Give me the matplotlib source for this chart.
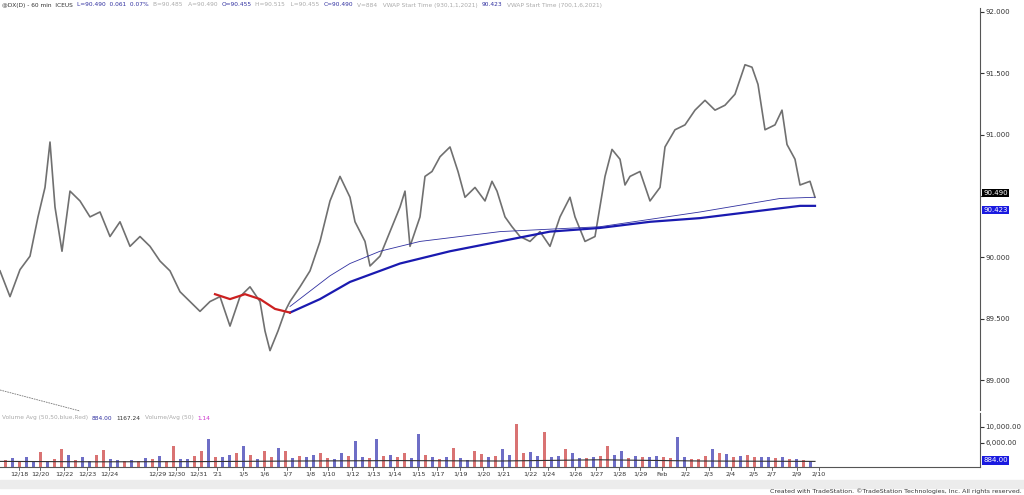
import numpy as np
import matplotlib.pyplot as plt
from matplotlib.patches import Rectangle

# price path (x in bar-position units, close value)
px = [0, 10, 20, 30, 38, 45, 50, 55, 62, 70, 80, 90, 100, 110, 120, 130, 140, 150, 160, 170,
      180, 190, 200, 210, 220, 230, 240, 250, 260, 265, 270, 278, 285, 290, 300, 310, 320, 330,
      340, 350, 355, 365, 370, 380, 390, 400, 405, 410, 420, 425, 432, 440, 450, 458, 465, 475,
      485, 492, 497, 505, 512, 520, 530, 540, 550, 560, 570, 575, 585, 595, 605, 612, 620, 625,
      630, 640, 650, 660, 665, 675, 685, 695, 705, 715, 725, 735, 745, 752, 758, 765, 775, 782,
      787, 795, 800, 810, 815]
price = [89.89, 89.68, 89.90, 90.01, 90.33, 90.57, 90.94, 90.41, 90.05, 90.54, 90.46, 90.33,
         90.37, 90.17, 90.29, 90.09, 90.17, 90.09, 89.97, 89.89, 89.72, 89.64, 89.56, 89.64,
         89.68, 89.44, 89.68, 89.76, 89.64, 89.40, 89.24, 89.40, 89.56, 89.64, 89.76, 89.89,
         90.13, 90.46, 90.66, 90.49, 90.29, 90.13, 89.93, 90.01, 90.21, 90.41, 90.54, 90.09,
         90.33, 90.66, 90.70, 90.82, 90.90, 90.70, 90.49, 90.57, 90.46, 90.62, 90.54, 90.33,
         90.25, 90.17, 90.13, 90.21, 90.09, 90.33, 90.49, 90.33, 90.13, 90.17, 90.66, 90.88,
         90.80, 90.59, 90.66, 90.70, 90.46, 90.57, 90.90, 91.04, 91.08, 91.20, 91.28, 91.20,
         91.24, 91.33, 91.57, 91.55, 91.41, 91.04, 91.08, 91.20, 90.92, 90.80, 90.59, 90.62, 90.49]

vw1_x = [290, 320, 350, 400, 450, 500, 550, 600, 650, 700, 750, 800, 815]
vw1 = [89.55, 89.66, 89.80, 89.95, 90.05, 90.13, 90.21, 90.24, 90.29, 90.32, 90.37, 90.42, 90.42]
vw2_x = [290, 330, 350, 380, 420, 500, 600, 700, 780, 815]
vw2 = [89.60, 89.85, 89.95, 90.05, 90.13, 90.21, 90.25, 90.37, 90.48, 90.49]
red_x = [215, 230, 245, 260, 275, 290]
red = [89.70, 89.66, 89.70, 89.66, 89.58, 89.55]

vol_x = list(range(5, 816, 7))
vol = [1800, 2200, 1500, 2600, 1400, 3800, 1600, 2100, 4600, 3100, 1800, 2400, 1500, 2900,
       4200, 2000, 1700, 1400, 1800, 1600, 2300, 1900, 2700, 1500, 5200, 2000, 1900, 2800,
       4100, 7000, 2500, 2600, 2900, 3400, 5200, 3000, 2100, 4000, 2600, 4700, 3900, 2200,
       2700, 2500, 2900, 3600, 2200, 2000, 3500, 2800, 6400, 2600, 2200, 7100, 2700, 3000,
       2500, 3500, 2300, 8200, 3000, 2500, 1900, 2400, 4700, 2200, 1800, 4000, 3200, 2600,
       2800, 4400, 2900, 10800, 3600, 3700, 2800, 8800, 2600, 2700, 4400, 3600, 2200, 2300,
       2500, 2700, 5200, 3000, 4100, 2300, 2800, 2600, 2400, 2700, 2500, 2200, 7400, 2400,
       2100, 2000, 2800, 4400, 3500, 3200, 2400, 2800, 3000, 2500, 2600, 2400, 2200, 2400,
       2000, 1900, 1800, 1500]
vol_col = 'rbrbbrbrrbrbbrrbbrbrbrbrrbbrrbrbbrbrbrrbrbrbbrrbbrbbrbrbrrbbrbrbrbbrrbrbbrrbbrbbrbbrbrrbbrbrbbrrbbrrrbrbrbrrbbrbrbrbrr'
avg_x = [0, 100, 200, 300, 400, 500, 600, 700, 815]
avg = [1400, 1300, 1350, 1500, 1600, 1500, 1800, 1500, 1400]

date_lbl = ['12/18', '12/20', '12/22', '12/23', '12/24', '12/29', '12/30', '12/31', "'21", '1/5',
            '1/6', '1/7', '1/8', '1/10', '1/12', '1/13', '1/14', '1/15', '1/17', '1/19', '1/20',
            '1/21', '1/22', '1/24', '1/26', '1/27', '1/28', '1/29', 'Feb', '2/2', '2/3', '2/4',
            '2/5', '2/7', '2/9', '2/10']
date_x = [19, 40, 64, 87, 109, 157, 176, 198, 217, 243, 264, 287, 310, 328, 352, 373, 394, 418,
          437, 460, 483, 503, 530, 548, 575, 596, 619, 640, 662, 686, 709, 731, 754, 772, 797, 819]

header = [('@DX(D) - 60 min  ICEUS', '#333333'), ('L=90.490  0.061  0.07%', '#3030a0'),
          ('B=90.485   A=90.490', '#aaaaaa'), ('O=90.455', '#3030a0'),
          ('H=90.515   L=90.455', '#aaaaaa'), ('C=90.490', '#3030a0'),
          ('V=884   VWAP Start Time (930,1,1,2021)', '#aaaaaa'), ('90.423', '#3030a0'),
          ('VWAP Start Time (700,1,6,2021)', '#aaaaaa')]
vol_hdr = [('Volume Avg (50,50,blue,Red)', '#aaaaaa'), ('884.00', '#3030a0'),
           ('1167.24', '#333333'), ('Volume/Avg (50)', '#aaaaaa'), ('1.14', '#cc33cc')]

W, H = 1024, 495
fig = plt.figure(figsize=(W / 100, H / 100), dpi=100)
fig.patch.set_facecolor('white')
R = 980 / W
ax = fig.add_axes([0, 1 - 410 / H, R, 402 / H])
axv = fig.add_axes([0, 1 - 467 / H, R, 54 / H])
for a in (ax, axv):
    a.set_xlim(0, 980)
    for s in ('top', 'left', 'bottom'):
        a.spines[s].set_visible(False)
    a.spines['right'].set_color('#555555')
    a.yaxis.tick_right()
    a.tick_params(axis='y', labelsize=5, colors='#333333', length=3, pad=1)
    a.set_xticks([])

ax.set_ylim(89.00 - 30 / 123, 92.00 + 4 / 123)
ax.plot(px, price, color='#707070', lw=1.2)
ax.plot(vw2_x, vw2, color='#3030a0', lw=0.6)
ax.plot(vw1_x, vw1, color='#1a1ab0', lw=1.6)
ax.plot(red_x, red, color='#cc2020', lw=1.6)
ticks = [89.0, 89.5, 90.0, 90.5, 91.0, 91.5, 92.0]
ax.set_yticks(ticks)
ax.set_yticklabels(['%.3f' % v for v in ticks])
ax.get_yticklabels()[3].set_visible(False)
ax.text(983, 90.49 + 0.035, '90.490', fontsize=5, color='white', va='center',
        bbox=dict(boxstyle='square,pad=0.15', fc='black', ec='none'))
ax.text(983, 90.423 - 0.04, '90.423', fontsize=5, color='white', va='center',
        bbox=dict(boxstyle='square,pad=0.15', fc='#1a1ae0', ec='none'))

axv.set_ylim(0, 13500)
for x, v, c in zip(vol_x, vol, vol_col):
    axv.bar(x, v, width=3, color='#d05050' if c == 'r' else '#4a4ab8', alpha=0.8)
axv.plot(avg_x, avg, color='#333333', lw=0.8)
axv.set_yticks([6000, 10000])
axv.set_yticklabels(['6,000.00', '10,000.00'])
axv.spines['bottom'].set_visible(True)
axv.spines['bottom'].set_color('#555555')
axv.text(983, 884, '884.00', fontsize=5, color='white', va='bottom',
         bbox=dict(boxstyle='square,pad=0.15', fc='#1a1ae0', ec='none'))

for lbl, x in zip(date_lbl, date_x):
    fig.text(x / W, 1 - 474 / H, lbl, fontsize=4.6, color='#333333', ha='center', va='center')
    fig.add_artist(plt.Line2D([x / W, x / W], [1 - 467 / H, 1 - 470 / H], color='#555555', lw=0.6))

renderer = fig.canvas.get_renderer()


def chain(items, y, fs=4.2, gap=4):
    x = 2
    for s, c in items:
        t = fig.text(x / W, 1 - y / H, s, fontsize=fs, color=c, va='center')
        x = t.get_window_extent(renderer).x1 + gap


chain(header, 5)
chain(vol_hdr, 418)
fig.add_artist(plt.Line2D([0, 80 / W], [1 - 390 / H, 1 - 411 / H], color='#777777', lw=0.6, ls=(0, (2, 1))))

fig.add_artist(Rectangle((0, 1 - 488 / H), 1, 8 / H, transform=fig.transFigure, color='#ececec'))
fig.text(1022 / W, 1 - 491 / H, 'Created with TradeStation. \u00a9TradeStation Technologies, Inc. All rights reserved.',
         fontsize=4.5, color='#333333', ha='right', va='center')

fig.savefig('out.png', dpi=100)
